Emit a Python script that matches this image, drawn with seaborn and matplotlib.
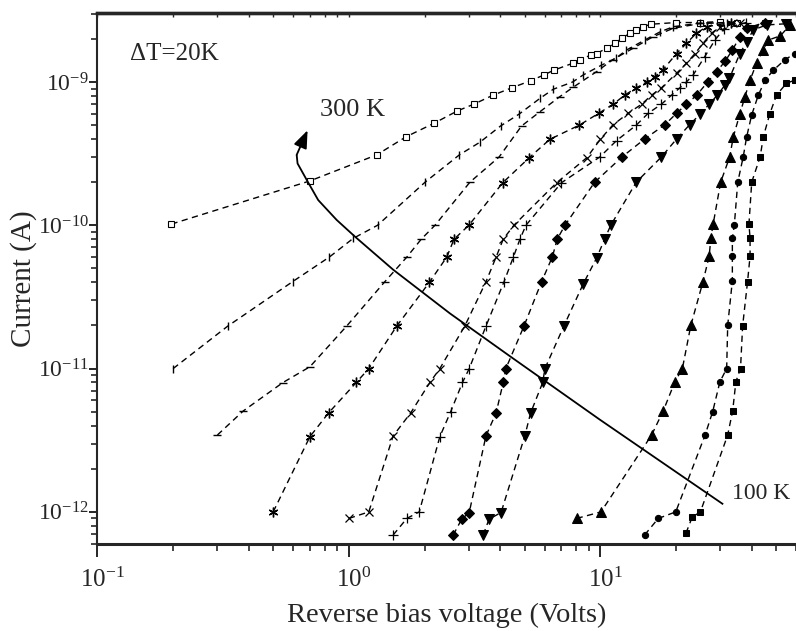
import matplotlib
matplotlib.use("Agg")
import matplotlib.pyplot as plt
import matplotlib.ticker as mticker
from matplotlib.transforms import ScaledTranslation
import seaborn as sns
import pandas as pd

# ---------------- data ----------------
temps = ["300 K", "280 K", "260 K", "240 K", "220 K", "200 K",
         "180 K", "160 K", "140 K", "120 K", "100 K"]

V300 = [0.197, 0.70, 1.29, 1.69, 2.18, 2.70, 3.14, 3.75, 4.44, 5.28, 5.97, 6.54,
        7.76, 8.30, 9.15, 9.66, 10.6, 11.4, 12.2, 13.1, 13.9, 14.8, 15.9, 20.0,
        24.9, 29.9, 34.9]
I300 = [1.02e-10, 2.04e-10, 3.1e-10, 4.15e-10, 5.15e-10, 6.28e-10, 7.0e-10, 8.1e-10,
        9.1e-10, 1.02e-9, 1.12e-9, 1.21e-9, 1.35e-9, 1.43e-9, 1.54e-9, 1.58e-9,
        1.72e-9, 1.86e-9, 2.02e-9, 2.19e-9, 2.31e-9, 2.43e-9, 2.53e-9, 2.6e-9,
        2.6e-9, 2.64e-9, 2.6e-9]

V280 = [0.20, 0.33, 0.597, 0.836, 1.04, 1.30, 2.01, 2.75, 3.32, 4.01, 4.76, 5.76,
        6.5, 7.76, 8.55, 10.1, 11.5, 12.7, 15.0, 17.3, 19.5, 25.0, 32.0]
I280 = [1.0e-11, 1.98e-11, 4.04e-11, 6.0e-11, 8.1e-11, 1.0e-10, 2.0e-10, 3.1e-10,
        3.8e-10, 4.93e-10, 5.98e-10, 7.7e-10, 8.9e-10, 1.0e-9, 1.12e-9, 1.31e-9,
        1.46e-9, 1.67e-9, 1.96e-9, 2.24e-9, 2.43e-9, 2.58e-9, 2.6e-9]

V260 = [0.30, 0.38, 0.546, 0.70, 0.98, 1.39, 1.70, 1.94, 2.20, 3.03, 3.96, 4.86,
        5.75, 6.9, 7.8, 9.66, 11.2, 13.5, 16.2, 19.5, 25.0, 33.0]
I260 = [3.44e-12, 5.06e-12, 7.98e-12, 1.03e-11, 1.98e-11, 4.04e-11, 6.0e-11, 8.0e-11,
        1.0e-10, 2.0e-10, 3.0e-10, 4.93e-10, 6.2e-10, 7.9e-10, 9.2e-10, 1.18e-9,
        1.43e-9, 1.72e-9, 2.07e-9, 2.37e-9, 2.56e-9, 2.6e-9]

V240 = [0.50, 0.70, 0.83, 1.07, 1.20, 1.55, 2.09, 2.45, 2.62, 3.0, 4.09, 5.21,
        6.30, 8.25, 9.86, 11.25, 12.5, 13.9, 15.3, 16.5, 17.7, 20.1, 22.0, 24.1,
        26.5, 33.0]
I240 = [1.0e-12, 3.35e-12, 4.9e-12, 8.0e-12, 1.0e-11, 1.98e-11, 4.0e-11, 6.0e-11,
        8.0e-11, 1.0e-10, 1.98e-10, 2.96e-10, 3.98e-10, 5.0e-10, 6.05e-10, 7.0e-10,
        8.1e-10, 9.1e-10, 1.0e-9, 1.09e-9, 1.21e-9, 1.58e-9, 1.86e-9, 2.19e-9,
        2.43e-9, 2.6e-9]

V220 = [1.0, 1.2, 1.50, 1.76, 2.10, 2.30, 2.89, 3.51, 3.85, 4.11, 4.53, 6.7, 8.83,
        10.0, 11.2, 12.9, 14.6, 16.0, 17.5, 20.1, 22.0, 23.8, 25.6, 27.7, 29.9, 36.0]
I220 = [9.0e-13, 1.0e-12, 3.39e-12, 4.9e-12, 8.0e-12, 1.0e-11, 1.98e-11, 4.04e-11,
        6.0e-11, 8.0e-11, 1.0e-10, 1.98e-10, 2.96e-10, 3.98e-10, 5.0e-10, 6.05e-10,
        7.0e-10, 8.1e-10, 9.1e-10, 1.15e-9, 1.35e-9, 1.58e-9, 1.86e-9, 2.19e-9,
        2.43e-9, 2.6e-9]

V200 = [1.50, 1.70, 1.905, 2.30, 2.54, 2.83, 3.01, 3.51, 4.14, 4.51, 4.79, 5.06,
        7.0, 9.96, 11.6, 13.9, 15.5, 17.5, 19.2, 20.7, 22.0, 23.4, 26.0, 28.5,
        31.0, 38.0]
I200 = [6.9e-13, 9.0e-13, 1.0e-12, 3.35e-12, 5.0e-12, 8.0e-12, 1.0e-11, 1.98e-11,
        4.04e-11, 6.0e-11, 8.0e-11, 1.0e-10, 1.98e-10, 3.0e-10, 3.9e-10, 5.0e-10,
        6.05e-10, 7.0e-10, 8.1e-10, 9.1e-10, 1.0e-9, 1.12e-9, 1.5e-9, 1.95e-9,
        2.35e-9, 2.6e-9]

V180 = [2.60, 2.81, 3.01, 3.51, 3.85, 4.11, 4.21, 4.97, 5.84, 6.44, 6.74, 7.23,
        9.5, 12.2, 15.0, 18.1, 20.1, 22.0, 24.2, 26.7, 29.0, 31.3, 33.5, 35.9,
        38.2, 45.0]
I180 = [6.9e-13, 8.9e-13, 9.9e-13, 3.4e-12, 4.9e-12, 8.0e-12, 1.0e-11, 1.98e-11,
        4.04e-11, 6.0e-11, 8.0e-11, 1.0e-10, 2.0e-10, 3.0e-10, 4.0e-10, 5.05e-10,
        6.05e-10, 7.0e-10, 8.1e-10, 1.0e-9, 1.18e-9, 1.39e-9, 1.67e-9, 2.07e-9,
        2.37e-9, 2.6e-9]

V160 = [3.42, 3.61, 4.03, 5.01, 5.28, 5.9, 6.02, 7.16, 8.55, 9.66, 10.4, 11.0, 13.9,
        17.5, 20.1, 22.7, 24.9, 27.1, 29.2, 31.3, 32.6, 35.9, 38.2, 40.6, 45.8, 55.0]
I160 = [6.9e-13, 8.9e-13, 9.9e-13, 3.4e-12, 4.9e-12, 8.0e-12, 1.0e-11, 1.98e-11,
        3.9e-11, 5.9e-11, 8.0e-11, 1.0e-10, 2.0e-10, 3.0e-10, 4.0e-10, 5.05e-10,
        5.95e-10, 7.0e-10, 8.1e-10, 9.5e-10, 1.06e-9, 1.58e-9, 1.91e-9, 2.31e-9,
        2.5e-9, 2.55e-9]

V140 = [8.05, 10.06, 16.0, 17.8, 19.8, 21.2, 22.9, 25.6, 27.1, 27.5, 28.1, 30.1,
        32.7, 33.8, 35.9, 37.6, 39.4, 41.8, 44.4, 46.5, 52.0, 56.8]
I140 = [9.0e-13, 1.0e-12, 3.44e-12, 5.08e-12, 8.1e-12, 1.0e-11, 2.0e-11, 4.04e-11,
        6.1e-11, 8.1e-11, 1.02e-10, 2.0e-10, 3.0e-10, 4.15e-10, 6.0e-10, 7.9e-10,
        1.03e-9, 1.35e-9, 1.67e-9, 1.96e-9, 2.1e-9, 2.5e-9]

V120 = [15.0, 17.0, 19.95, 26.1, 27.97, 29.9, 31.8, 32.1, 33.5, 33.5, 33.5, 34.1,
        35.2, 37.0, 38.2, 40.0, 42.5, 45.2, 48.8, 54.2, 59.4]
I120 = [6.9e-13, 9.0e-13, 1.0e-12, 3.44e-12, 5.0e-12, 8.1e-12, 1.0e-11, 2.0e-11,
        4.1e-11, 6.1e-11, 8.1e-11, 1.0e-10, 2.0e-10, 3.0e-10, 4.15e-10, 5.9e-10,
        8.1e-10, 1.03e-9, 1.21e-9, 1.43e-9, 1.58e-9]

V100 = [21.9, 23.2, 25.0, 32.1, 33.6, 34.6, 36.1, 36.8, 38.5, 39.4, 39.4, 39.0,
        40.0, 43.2, 44.5, 47.2, 50.2, 55.0, 59.4]
I100 = [7.1e-13, 9.2e-13, 1.0e-12, 3.44e-12, 5.08e-12, 8.1e-12, 1.0e-11, 1.98e-11,
        4.04e-11, 6.1e-11, 8.1e-11, 1.02e-10, 2.0e-10, 3.0e-10, 4.15e-10, 6.0e-10,
        8.1e-10, 9.8e-10, 1.03e-9]

V_series = [V300, V280, V260, V240, V220, V200, V180, V160, V140, V120, V100]
I_series = [I300, I280, I260, I240, I220, I200, I180, I160, I140, I120, I100]

# guide arrow (from 100 K end to 300 K end)
arrow_V = [30.8, 20.0, 9.96, 4.37, 2.52, 1.50, 1.06, 0.894, 0.755, 0.68, 0.625, 0.62]
arrow_I = [1.13e-12, 1.9e-12, 4.4e-12, 1.22e-11, 2.43e-11, 4.9e-11, 8.3e-11,
           1.09e-10, 1.5e-10, 2.07e-10, 2.7e-10, 3.1e-10]
arrow_tip = (0.685, 4.6e-10)

# ---------------- styles ----------------
marker_styles = [
    dict(marker="s", ms=4.2, mfc="white", mec="black", mew=0.8),
    dict(marker="|", ms=6, mec="black", mew=1.0),
    dict(marker="_", ms=6, mec="black", mew=1.0),
    dict(marker=(6, 2, 0), ms=7, mec="black", mew=1.0),
    dict(marker="x", ms=6, mec="black", mew=0.9),
    dict(marker="+", ms=6.5, mec="black", mew=0.9),
    dict(marker="D", ms=5, mfc="black", mec="black"),
    dict(marker="v", ms=6.5, mfc="black", mec="black"),
    dict(marker="^", ms=6.5, mfc="black", mec="black"),
    dict(marker="o", ms=4.5, mfc="black", mec="black"),
    dict(marker="s", ms=4.5, mfc="black", mec="black"),
]

sns.set_theme(style="ticks")
plt.rcParams["font.family"] = ["Liberation Serif", "DejaVu Serif"]
plt.rcParams["mathtext.fontset"] = "custom"
plt.rcParams["mathtext.rm"] = "Liberation Serif"
plt.rcParams["mathtext.it"] = "Liberation Serif:italic"
plt.rcParams["mathtext.default"] = "regular"
plt.rcParams["axes.unicode_minus"] = False

fig = plt.figure(figsize=(7.96, 6.31), dpi=100)
ax = fig.add_axes([0.1224, 0.1379, 0.8776, 0.8415])

for t, V, I, ms in zip(temps, V_series, I_series, marker_styles):
    df = pd.DataFrame({"V": V, "I": I})
    sns.lineplot(data=df, x="V", y="I", ax=ax, color="black", sort=False,
                 estimator=None, errorbar=None, linestyle=(0, (4.5, 3.2)),
                 linewidth=1.0, legend=False, **ms)

ax.plot(arrow_V, arrow_I, color="black", linewidth=1.3, solid_capstyle="butt")
ax.annotate("", xy=arrow_tip, xytext=(arrow_V[-1], arrow_I[-1]),
            arrowprops=dict(arrowstyle="-|>,head_length=0.9,head_width=0.35",
                            color="black", lw=1.3, shrinkA=0, shrinkB=0))

ax.set_xscale("log")
ax.set_yscale("log")
ax.set_xlim(0.1, 60)
ax.set_ylim(5.97e-13, 3.03e-9)

ax.text(0.767, 6.4e-10, "300 K", fontsize=19, va="center", ha="left")
ax.text(33.3, 1.35e-12, "100 K", fontsize=17, va="center", ha="left")
ax.text(0.135, 1.57e-9, "ΔT=20K", fontsize=18, va="center", ha="left")

ax.set_xlabel("Reverse bias voltage (Volts)", fontsize=20.5)
ax.xaxis.set_label_coords(0.5, -0.111)
ax.set_ylabel("Current (A)", fontsize=21)
ax.yaxis.set_label_coords(-0.086, 0.5)

ax.spines["right"].set_visible(False)
ax.spines["top"].set_linewidth(2.4)
ax.spines["bottom"].set_linewidth(2.2)
ax.spines["left"].set_linewidth(1.5)

ax.tick_params(axis="x", which="major", direction="out", length=9, width=1.4,
               labelsize=18, pad=8)
ax.tick_params(axis="x", which="minor", direction="out", length=5, width=1.2)
ax.tick_params(axis="y", which="major", direction="out", length=6, width=1.4,
               labelsize=17, pad=0)
ax.tick_params(axis="y", which="minor", direction="out", length=4.5, width=1.2)

for axis in (ax.xaxis, ax.yaxis):
    axis.set_minor_locator(mticker.LogLocator(base=10, subs=range(2, 10), numticks=20))
    axis.set_minor_formatter(mticker.NullFormatter())

# shift x tick labels so that the mantissa "10" sits centred on its tick
for lab in ax.get_xticklabels():
    lab.set_transform(lab.get_transform() + ScaledTranslation(5 / 100, 0, fig.dpi_scale_trans))

# small inward ticks along the top spine
top = ax.secondary_xaxis("top")
top.tick_params(which="both", direction="in", length=3, width=1.0, labeltop=False)
top.xaxis.set_minor_locator(mticker.LogLocator(base=10, subs=range(2, 10), numticks=20))
top.xaxis.set_major_formatter(mticker.NullFormatter())
top.xaxis.set_minor_formatter(mticker.NullFormatter())
top.spines["top"].set_linewidth(2.4)

fig.savefig("out.png", dpi=100)
